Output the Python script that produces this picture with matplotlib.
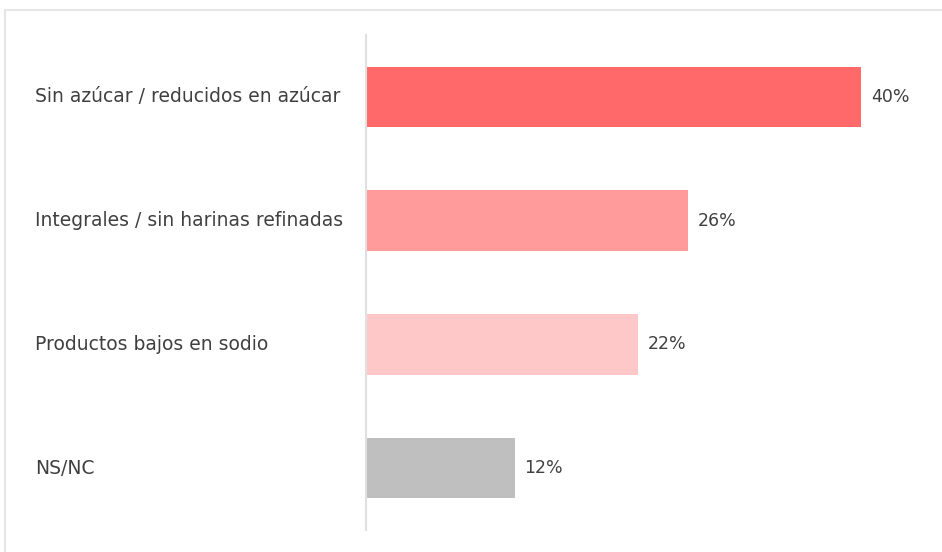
import matplotlib.pyplot as plt
from matplotlib.patches import Rectangle

categories = ['Sin azúcar / reducidos en azúcar',
              'Integrales / sin harinas refinadas',
              'Productos bajos en sodio',
              'NS/NC']
values = [40, 26, 22, 12]
colors = ['#FF6969', '#FF9B9B', '#FFC8C8', '#BFBFBF']

W, H = 942, 552
fig = plt.figure(figsize=(W / 100, H / 100), dpi=100)

# light frame around the chart area (right and bottom edges run off the canvas)
fig.patches.append(Rectangle((5 / W, -0.1), 1.2, 1.1 - 10 / H, transform=fig.transFigure,
                             fill=False, edgecolor='#E6E6E6', linewidth=1.5))

ax = fig.add_axes([366 / W, 22 / H, 564 / W, 495 / H])
y = range(len(categories))
ax.barh(y, values, height=0.49, color=colors)
ax.set_ylim(3.5, -0.5)
ax.set_xlim(0, 564 / 12.375)

for i, v in enumerate(values):
    ax.text(v + 0.8, i, f'{v}%', va='center', ha='left', fontsize=12.5, color='#404040')

for i, c in enumerate(categories):
    ax.annotate(c, xy=(35 / W, i), xycoords=('figure fraction', 'data'),
                va='center', ha='left', fontsize=13.5, color='#404040',
                annotation_clip=False)

for s in ['top', 'right', 'bottom']:
    ax.spines[s].set_visible(False)
ax.spines['left'].set_color('#E0E0E0')
ax.spines['left'].set_linewidth(1.5)
ax.set_xticks([])
ax.set_yticks([])

fig.savefig('out.png', dpi=100)
